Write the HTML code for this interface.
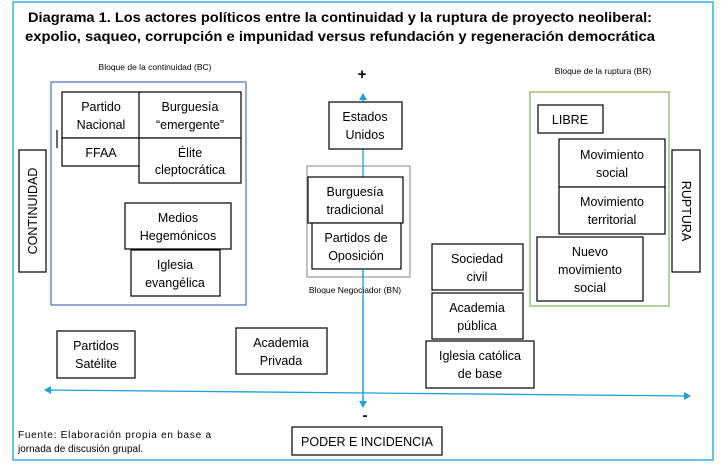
<!DOCTYPE html>
<html><head><meta charset="utf-8"><style>
html,body{margin:0;padding:0;background:#fff;}
svg{display:block;}
text{font-family:"Liberation Sans",sans-serif;fill:#000;}
.t{font-size:12.5px;text-anchor:middle;}
.s{font-size:8.5px;text-anchor:middle;}
.b{fill:#fff;stroke:#000;stroke-width:1.2;}
</style></head><body>
<svg width="727" height="465" viewBox="0 0 727 465" xmlns="http://www.w3.org/2000/svg">
<defs>
<marker id="ah" markerWidth="8" markerHeight="8" refX="6" refY="4" orient="auto" markerUnits="userSpaceOnUse">
<path d="M0,0 L7,4 L0,8 z" fill="#1ea0d8"/></marker>
</defs>
<rect x="13" y="2" width="700" height="458" fill="none" stroke="#3aaee0" stroke-width="1.5"/>
<text x="340" y="22" font-weight="bold" font-size="14" text-anchor="middle" textLength="624" lengthAdjust="spacingAndGlyphs">Diagrama 1. Los actores políticos entre la continuidad y la ruptura de proyecto neoliberal:</text>
<text x="340" y="41" font-weight="bold" font-size="14" text-anchor="middle" textLength="630" lengthAdjust="spacingAndGlyphs">expolio, saqueo, corrupción e impunidad versus refundación y regeneración democrática</text>

<!-- BC -->
<text class="s" x="155" y="70">Bloque de la continuidad (BC)</text>
<rect x="51" y="82" width="195" height="223" fill="none" stroke="#4a72b0" stroke-width="1.2"/>
<line x1="57" y1="130" x2="57" y2="148" stroke="#000" stroke-width="1.2"/>
<rect class="b" x="62" y="92" width="78" height="46"/>
<text class="t" x="101" y="111">Partido</text><text class="t" x="101" y="129">Nacional</text>
<rect class="b" x="139" y="92" width="102" height="46"/>
<text class="t" x="190" y="111">Burguesía</text><text class="t" x="190" y="129">“emergente”</text>
<rect class="b" x="62" y="138" width="78" height="28"/>
<text class="t" x="101" y="157">FFAA</text>
<rect class="b" x="139" y="138" width="102" height="45"/>
<text class="t" x="190" y="157">Élite</text><text class="t" x="190" y="174">cleptocrática</text>
<rect class="b" x="125" y="203" width="106" height="46"/>
<text class="t" x="178" y="222">Medios</text><text class="t" x="178" y="240">Hegemónicos</text>
<rect class="b" x="131" y="250" width="89" height="46"/>
<text class="t" x="175" y="269">Iglesia</text><text class="t" x="175" y="287">evangélica</text>
<rect class="b" x="19" y="150" width="27" height="122"/>
<text class="t" x="0" y="0" transform="translate(37,211) rotate(-90)">CONTINUIDAD</text>

<!-- axes -->
<line x1="363" y1="405" x2="363" y2="94" stroke="#1ea0d8" stroke-width="1.3" marker-end="url(#ah)"/>
<line x1="363" y1="300" x2="363" y2="407" stroke="#1ea0d8" stroke-width="1.3" marker-end="url(#ah)"/>
<line x1="52" y1="390" x2="45" y2="390" stroke="#1ea0d8" stroke-width="1.3" marker-end="url(#ah)"/>
<line x1="45" y1="390" x2="690" y2="396" stroke="#1ea0d8" stroke-width="1.3" marker-end="url(#ah)"/>
<text x="362" y="79" font-size="15" font-weight="bold" text-anchor="middle">+</text>
<text x="365" y="420" font-size="15" font-weight="bold" text-anchor="middle">-</text>

<!-- BN -->
<rect class="b" x="329" y="102" width="73" height="47"/>
<text class="t" x="365" y="121">Estados</text><text class="t" x="365" y="139">Unidos</text>
<rect x="307" y="166" width="103" height="111" fill="none" stroke="#999" stroke-width="1.2"/>
<rect class="b" x="308" y="177" width="95" height="46"/>
<text class="t" x="355" y="196">Burguesía</text><text class="t" x="355" y="214">tradicional</text>
<rect class="b" x="312" y="223" width="89" height="46"/>
<text class="t" x="356" y="242">Partidos de</text><text class="t" x="356" y="260">Oposición</text>
<line x1="363" y1="269" x2="363" y2="277" stroke="#1ea0d8" stroke-width="1.3"/>
<text class="s" x="355" y="293">Bloque Negociador (BN)</text>

<!-- middle -->
<rect class="b" x="432" y="244" width="91" height="46"/>
<text class="t" x="477" y="263">Sociedad</text><text class="t" x="477" y="281">civil</text>
<rect class="b" x="432" y="293" width="91" height="46"/>
<text class="t" x="477" y="312">Academia</text><text class="t" x="477" y="330">pública</text>
<rect class="b" x="426" y="341" width="108" height="47"/>
<text class="t" x="480" y="360">Iglesia católica</text><text class="t" x="480" y="378">de base</text>
<rect class="b" x="57" y="331" width="78" height="47"/>
<text class="t" x="96" y="350">Partidos</text><text class="t" x="96" y="368">Satélite</text>
<rect class="b" x="236" y="328" width="91" height="46"/>
<text class="t" x="281" y="347">Academia</text><text class="t" x="281" y="365">Privada</text>

<!-- BR -->
<text class="s" x="603" y="74">Bloque de la ruptura (BR)</text>
<rect x="530" y="92" width="139" height="214" fill="none" stroke="#7cb45a" stroke-width="1.2"/>
<rect class="b" x="538" y="105" width="65" height="28"/>
<text class="t" x="570" y="124">LIBRE</text>
<rect class="b" x="559" y="139" width="106" height="48"/>
<text class="t" x="612" y="159">Movimiento</text><text class="t" x="612" y="177">social</text>
<rect class="b" x="559" y="187" width="106" height="47"/>
<text class="t" x="612" y="206">Movimiento</text><text class="t" x="612" y="224">territorial</text>
<rect class="b" x="537" y="237" width="106" height="64"/>
<text class="t" x="590" y="256">Nuevo</text><text class="t" x="590" y="274">movimiento</text><text class="t" x="590" y="292">social</text>
<rect class="b" x="672" y="150" width="28" height="122"/>
<text class="t" x="0" y="0" transform="translate(682,211) rotate(90)">RUPTURA</text>

<!-- bottom -->
<rect class="b" x="292" y="427" width="150" height="28"/>
<text class="t" x="367" y="446">PODER E INCIDENCIA</text>
<text x="18" y="438" font-size="10" textLength="193" lengthAdjust="spacing">Fuente: Elaboración propia en base a</text>
<text x="18" y="452" font-size="10">jornada de discusión grupal.</text>
</svg>
</body></html>
